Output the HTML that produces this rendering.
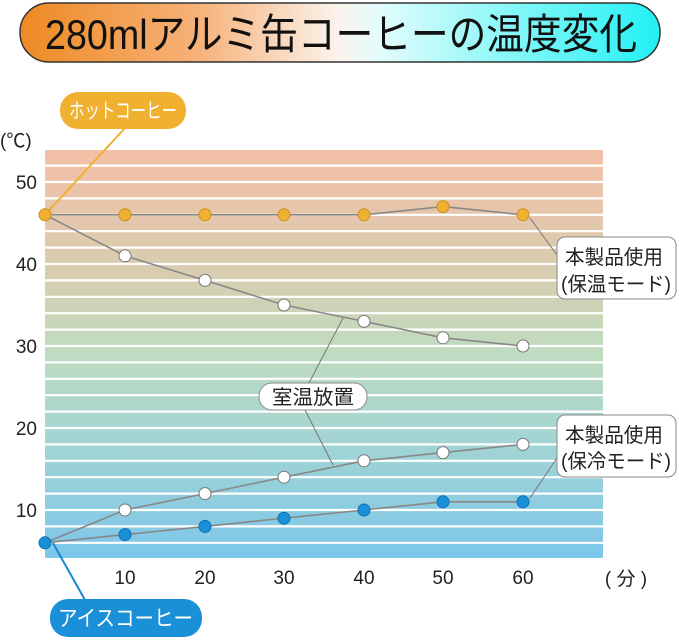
<!DOCTYPE html>
<html><head><meta charset="utf-8"><style>
html,body{margin:0;padding:0;background:#fff}
body{width:679px;height:638px;overflow:hidden;font-family:"Liberation Sans","Noto Sans CJK JP",sans-serif}
</style></head><body>
<svg width="679" height="638" viewBox="0 0 679 638" xmlns="http://www.w3.org/2000/svg" font-family="Liberation Sans, Noto Sans CJK JP, sans-serif">
<defs>
<linearGradient id="tg" x1="0" x2="1" y1="0" y2="0">
<stop offset="0" stop-color="#ee8a22"/><stop offset="0.28" stop-color="#f6b27a"/><stop offset="0.5" stop-color="#fbf4ee"/><stop offset="0.56" stop-color="#e4fcfc"/><stop offset="0.75" stop-color="#8ef7f8"/><stop offset="1" stop-color="#22f0f4"/>
</linearGradient>
<linearGradient id="bg" x1="0" x2="0" y1="0" y2="1">
<stop offset="0" stop-color="#f3bfa6"/><stop offset="0.3" stop-color="#d8cdb0"/><stop offset="0.5" stop-color="#bfdcc0"/><stop offset="0.72" stop-color="#a2d4d4"/><stop offset="1" stop-color="#7cc6ea"/>
</linearGradient>
</defs>
<rect x="20" y="3" width="640" height="59" rx="29" fill="url(#tg)" stroke="#333" stroke-width="1.5"/>
<text x="45" y="49" font-size="42" fill="#111" textLength="592" lengthAdjust="spacingAndGlyphs">280mlアルミ缶コーヒーの温度変化</text>
<rect x="45" y="150" width="558" height="408" fill="url(#bg)"/>
<g stroke="#fff" stroke-width="2.2">
<line x1="45" x2="603" y1="165.6" y2="165.6"/><line x1="45" x2="603" y1="182" y2="182"/><line x1="45" x2="603" y1="198.4" y2="198.4"/><line x1="45" x2="603" y1="214.8" y2="214.8"/><line x1="45" x2="603" y1="231.2" y2="231.2"/><line x1="45" x2="603" y1="247.6" y2="247.6"/><line x1="45" x2="603" y1="264" y2="264"/><line x1="45" x2="603" y1="280.4" y2="280.4"/><line x1="45" x2="603" y1="296.8" y2="296.8"/><line x1="45" x2="603" y1="313.2" y2="313.2"/><line x1="45" x2="603" y1="329.6" y2="329.6"/><line x1="45" x2="603" y1="346" y2="346"/><line x1="45" x2="603" y1="362.4" y2="362.4"/><line x1="45" x2="603" y1="378.8" y2="378.8"/><line x1="45" x2="603" y1="395.2" y2="395.2"/><line x1="45" x2="603" y1="411.6" y2="411.6"/><line x1="45" x2="603" y1="428" y2="428"/><line x1="45" x2="603" y1="444.4" y2="444.4"/><line x1="45" x2="603" y1="460.8" y2="460.8"/><line x1="45" x2="603" y1="477.2" y2="477.2"/><line x1="45" x2="603" y1="493.6" y2="493.6"/><line x1="45" x2="603" y1="510" y2="510"/><line x1="45" x2="603" y1="526.4" y2="526.4"/><line x1="45" x2="603" y1="542.8" y2="542.8"/>
</g>
<g font-size="19" fill="#222" text-anchor="end">
<text x="37" y="189">50</text><text x="37" y="271">40</text><text x="37" y="353">30</text><text x="37" y="435">20</text><text x="37" y="517">10</text>
</g>
<text x="0" y="147" font-size="19" fill="#222">(℃)</text>
<g font-size="19" fill="#222" text-anchor="middle">
<text x="125" y="584">10</text><text x="205" y="584">20</text><text x="284" y="584">30</text><text x="364" y="584">40</text><text x="443" y="584">50</text><text x="523" y="584">60</text>
</g>
<text x="626" y="585" font-size="19" fill="#222" text-anchor="middle">( 分 )</text>
<g stroke="#888" stroke-width="1.6" fill="none">
<polyline points="45,214.8 125,214.8 205,214.8 284,214.8 364,214.8 443,206.6 523,214.8"/>
<polyline points="45,214.8 125,255.8 205,280.4 284,305 364,321.4 443,337.8 523,346"/>
<polyline points="45,542.8 125,510 205,493.6 284,477.2 364,460.8 443,452.6 523,444.4"/>
<polyline points="45,542.8 125,534.6 205,526.4 284,518.2 364,510 443,501.8 523,501.8"/>
</g>
<g stroke="#777" stroke-width="1" fill="none">
<line x1="343" y1="318" x2="309" y2="383"/><line x1="305" y1="410" x2="333" y2="465"/>
<line x1="530" y1="218" x2="557" y2="255"/><line x1="530" y1="498" x2="557" y2="458"/>
</g>
<line x1="125" y1="128" x2="45" y2="214.8" stroke="#f0b030" stroke-width="2"/>
<line x1="53" y1="543" x2="85" y2="600" stroke="#1a88d0" stroke-width="2"/>
<g fill="#f0b030" stroke="#c8902a" stroke-width="1">
<circle cx="45" cy="214.8" r="6"/><circle cx="125" cy="214.8" r="6"/><circle cx="205" cy="214.8" r="6"/><circle cx="284" cy="214.8" r="6"/><circle cx="364" cy="214.8" r="6"/><circle cx="443" cy="206.6" r="6"/><circle cx="523" cy="214.8" r="6"/>
</g>
<g fill="#fff" stroke="#777" stroke-width="1">
<circle cx="125" cy="255.8" r="6"/><circle cx="205" cy="280.4" r="6"/><circle cx="284" cy="305" r="6"/><circle cx="364" cy="321.4" r="6"/><circle cx="443" cy="337.8" r="6"/><circle cx="523" cy="346" r="6"/>
<circle cx="125" cy="510" r="6"/><circle cx="205" cy="493.6" r="6"/><circle cx="284" cy="477.2" r="6"/><circle cx="364" cy="460.8" r="6"/><circle cx="443" cy="452.6" r="6"/><circle cx="523" cy="444.4" r="6"/>
</g>
<g fill="#1a90d8" stroke="#1070b0" stroke-width="1">
<circle cx="45" cy="542.8" r="6"/><circle cx="125" cy="534.6" r="6"/><circle cx="205" cy="526.4" r="6"/><circle cx="284" cy="518.2" r="6"/><circle cx="364" cy="510" r="6"/><circle cx="443" cy="501.8" r="6"/><circle cx="523" cy="501.8" r="6"/>
</g>
<rect x="60" y="92" width="126" height="37" rx="18" fill="#f0b030"/>
<text x="69" y="118" font-size="21" fill="#fff" textLength="108" lengthAdjust="spacingAndGlyphs">ホットコーヒー</text>
<rect x="50" y="599" width="152" height="38" rx="18" fill="#1a90d8"/>
<text x="58" y="626" font-size="22" fill="#fff" textLength="135" lengthAdjust="spacingAndGlyphs">アイスコーヒー</text>
<rect x="259" y="383" width="108" height="27" rx="13" fill="#fff" stroke="#888" stroke-width="1"/>
<text x="272" y="404" font-size="20" fill="#222" textLength="82" lengthAdjust="spacingAndGlyphs">室温放置</text>
<rect x="557" y="237" width="119" height="62" rx="8" fill="#fff" stroke="#888" stroke-width="1"/>
<text x="565" y="264" font-size="20" fill="#222" textLength="98" lengthAdjust="spacingAndGlyphs">本製品使用</text>
<text x="561" y="291" font-size="20" fill="#222" textLength="110" lengthAdjust="spacingAndGlyphs">(保温モード)</text>
<rect x="557" y="415" width="119" height="62" rx="8" fill="#fff" stroke="#888" stroke-width="1"/>
<text x="565" y="442" font-size="20" fill="#222" textLength="98" lengthAdjust="spacingAndGlyphs">本製品使用</text>
<text x="561" y="468" font-size="20" fill="#222" textLength="110" lengthAdjust="spacingAndGlyphs">(保冷モード)</text>
</svg>
</body></html>
